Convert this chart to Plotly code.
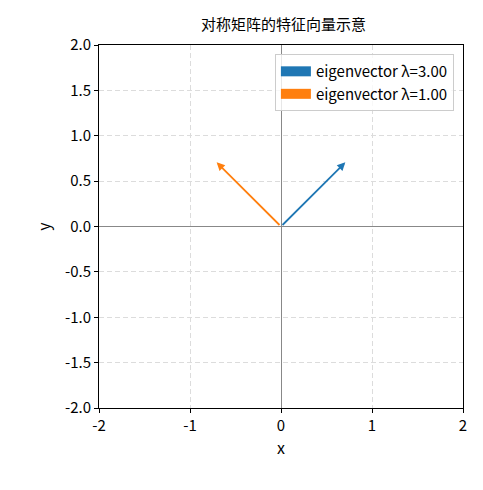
import plotly.graph_objects as go

# eigenvectors of the symmetric matrix (unit length)
labels = ["eigenvector λ=3.00", "eigenvector λ=1.00"]
vec_x = [0.707, -0.707]
vec_y = [0.707, 0.707]
colors = ["#1f77b4", "#ff7f0e"]

x_ticks = [-2, -1, 0, 1, 2]
y_ticks = [-2.0, -1.5, -1.0, -0.5, 0.0, 0.5, 1.0, 1.5, 2.0]

fig = go.Figure()

# dummy traces only for the legend patches
for lab, c in zip(labels, colors):
    fig.add_trace(go.Scatter(x=[None], y=[None], mode="lines", name=lab,
                             line=dict(color=c, width=10)))

# arrows from origin
for vx, vy, c in zip(vec_x, vec_y, colors):
    fig.add_annotation(x=vx, y=vy, ax=0, ay=0, xref="x", yref="y",
                       axref="x", ayref="y", showarrow=True, text="",
                       arrowhead=2, arrowsize=0.9, arrowwidth=1.8, arrowcolor=c)

font = "Noto Sans CJK SC, Noto Sans, sans-serif"

axis_common = dict(
    showline=True, linecolor="black", linewidth=1, mirror=True,
    ticks="outside", ticklen=4, tickcolor="black",
    showgrid=True, gridcolor="#dcdcdc", griddash="5px,3px", gridwidth=1,
    zeroline=True, zerolinecolor="#888888", zerolinewidth=0.8,
    tickfont=dict(size=15, color="black", family=font),
)

fig.update_layout(
    width=476, height=483,
    margin=dict(l=91, r=21, t=37, b=83),
    plot_bgcolor="white", paper_bgcolor="white",
    font=dict(family=font, color="black"),
    title=dict(text="对称矩阵的特征向量示意", x=0.579, xanchor="center",
               y=0.966, yanchor="middle", font=dict(size=15, color="black")),
    xaxis=dict(range=[-2, 2], tickvals=x_ticks,
               ticktext=[str(t) for t in x_ticks],
               title=dict(text="x", font=dict(size=16), standoff=8),
               **axis_common),
    yaxis=dict(range=[-2, 2], tickvals=y_ticks,
               ticktext=["%.1f" % t for t in y_ticks],
               title=dict(text="y", font=dict(size=16), standoff=10),
               **axis_common),
    legend=dict(x=0.975, y=0.975, xanchor="right", yanchor="top",
                bgcolor="rgba(255,255,255,0.8)", bordercolor="#cccccc",
                borderwidth=1, font=dict(size=15, color="black"),
                tracegroupgap=2),
    showlegend=True,
)

fig.write_html("out.html")
